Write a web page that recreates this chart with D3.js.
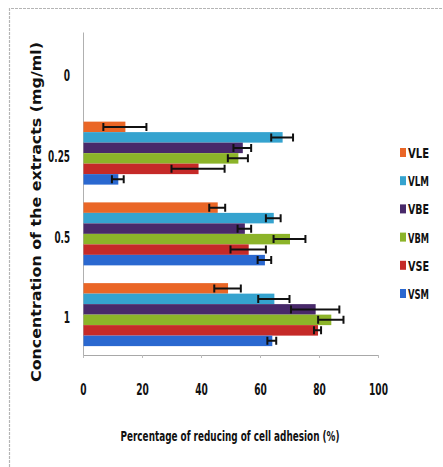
<!DOCTYPE html>
<html>
<head>
<meta charset="utf-8">
<script src="https://cdn.jsdelivr.net/npm/d3@7"></script>
<style>
  body { margin: 0; background: #fff; }
  svg { display: block; }
  .tick-label { font-family: "DejaVu Sans Condensed", "Liberation Sans Narrow", "Liberation Sans", sans-serif; font-weight: bold; font-size: 16px; fill: #111; }
  .axis-title { font-family: "DejaVu Sans Condensed", "Liberation Sans Narrow", sans-serif; font-weight: bold; font-size: 14px; fill: #111; }
  .y-title { font-family: "DejaVu Sans", Verdana, sans-serif; font-weight: bold; font-size: 14px; fill: #111; }
  .legend-label { font-family: "DejaVu Sans Condensed", "Liberation Sans Narrow", sans-serif; font-weight: bold; font-size: 14px; fill: #111; }
</style>
</head>
<body>
<svg width="443" height="467"></svg>
<script>
  // concentrations (mg/ml), top to bottom
  const categories = ['0', '0.25', '0.5', '1'];
  const seriesNames = ['VLE', 'VLM', 'VBE', 'VBM', 'VSE', 'VSM'];
  const seriesColors = ['#ea6626', '#35a3cf', '#48296a', '#8cb429', '#c52a28', '#2a68d0'];

  // % reduction of cell adhesion, one value per concentration
  const VLE = [0, 14.2, 45.5, 49];
  const VLM = [0, 67.5, 64.5, 64.7];
  const VBE = [0, 54, 54.7, 78.7];
  const VBM = [0, 52.5, 70, 84];
  const VSE = [0, 39, 56, 79.5];
  const VSM = [0, 11.8, 61.5, 64];

  // error bar half-widths
  const errVLE = [0, 7.3, 2.7, 4.5];
  const errVLM = [0, 3.7, 2.5, 5.3];
  const errVBE = [0, 3, 2.3, 8.2];
  const errVBM = [0, 3.4, 5.4, 4.3];
  const errVSE = [0, 9, 6, 1.2];
  const errVSM = [0, 2, 2.3, 1.5];

  const xTicks = [0, 20, 40, 60, 80, 100];

  const values = [VLE, VLM, VBE, VBM, VSE, VSM];
  const errors = [errVLE, errVLM, errVBE, errVBM, errVSE, errVSM];

  const rows = [];
  categories.forEach((c, ci) => {
    seriesNames.forEach((s, si) => {
      rows.push({ cat: c, series: s, value: values[si][ci], err: errors[si][ci], color: seriesColors[si] });
    });
  });

  // narrow glyph widths, like the condensed font of the scan
  const narrowWidth = s => s.split('').reduce((w, ch) => w + (ch === '.' ? 3 : 6.3), 0);

  const svg = d3.select('svg');

  // frame of the scanned figure
  svg.append('path')
    .attr('d', 'M9.5,467 V8.5 H443')
    .attr('fill', 'none')
    .attr('stroke', '#b5b5b5')
    .attr('stroke-width', 1.2)
    .attr('stroke-dasharray', '3,1');

  const xScale = d3.scaleLinear().domain([0, 100]).range([83, 378]);

  const yScale = d3.scaleBand()
    .domain(categories)
    .range([32, 355])
    .paddingInner(0.22)
    .paddingOuter(0.11);

  const ySub = d3.scaleBand()
    .domain(seriesNames)
    .range([0, yScale.bandwidth()]);

  // x axis
  const xAxisG = svg.append('g')
    .attr('transform', `translate(0,${355})`)
    .call(d3.axisBottom(xScale).tickValues(xTicks).tickSize(3).tickSizeOuter(0));
  xAxisG.select('.domain').attr('stroke', '#a8a8a8');
  xAxisG.selectAll('.tick line').attr('stroke', '#bbb');
  xAxisG.selectAll('.tick text')
    .attr('class', 'tick-label')
    .attr('y', 29)
    .attr('dy', '0.71em')
    .attr('textLength', d => narrowWidth(String(d)))
    .attr('lengthAdjust', 'spacingAndGlyphs');

  // y axis
  const yAxisG = svg.append('g')
    .attr('transform', `translate(${83},0)`)
    .call(d3.axisLeft(yScale).tickSize(0).tickPadding(13));
  yAxisG.select('.domain').attr('stroke', '#b0b0b0');
  yAxisG.selectAll('.tick text')
    .attr('class', 'tick-label')
    .attr('dy', '0.55em')
    .attr('textLength', d => narrowWidth(d))
    .attr('lengthAdjust', 'spacingAndGlyphs');

  // bars
  const barG = svg.append('g');
  const visible = rows.filter(d => d.value > 0);

  barG.selectAll('rect').data(visible)
    .enter().append('rect')
      .attr('x', xScale(0) + 0.5)
      .attr('y', d => yScale(d.cat) + ySub(d.series))
      .attr('width', d => xScale(d.value) - xScale(0))
      .attr('height', ySub.bandwidth())
      .attr('fill', d => d.color);

  // error bars
  const errG = svg.append('g')
    .attr('stroke', '#111')
    .attr('stroke-width', 2);
  const cy = d => yScale(d.cat) + ySub(d.series) + ySub.bandwidth() / 2;
  const capH = 4;

  errG.selectAll('.err').data(visible)
    .enter().append('path')
      .attr('class', 'err')
      .attr('fill', 'none')
      .attr('d', d => {
        const x0 = xScale(d.value - d.err);
        const x1 = xScale(d.value + d.err);
        const y = cy(d);
        return `M${x0},${y}H${x1}M${x0},${y - capH}V${y + capH}M${x1},${y - capH}V${y + capH}`;
      });

  // axis titles
  svg.append('text')
    .attr('class', 'axis-title')
    .attr('x', 230)
    .attr('y', 441)
    .attr('text-anchor', 'middle')
    .attr('textLength', 219)
    .attr('lengthAdjust', 'spacingAndGlyphs')
    .text('Percentage of reducing of cell adhesion (%)');

  svg.append('text')
    .attr('class', 'y-title')
    .attr('transform', `translate(${41},${212}) rotate(-90)`)
    .attr('text-anchor', 'middle')
    .attr('textLength', 340)
    .attr('lengthAdjust', 'spacingAndGlyphs')
    .text('Concentration of the extracts (mg/ml)');

  // legend
  const legendY = d3.scalePoint().domain(seriesNames).range([153, 294]);
  const legend = svg.append('g');
  const item = legend.selectAll('g').data(seriesNames)
    .enter().append('g')
      .attr('transform', d => `translate(400,${legendY(d)})`);
  item.append('rect')
    .attr('x', 0)
    .attr('y', -5)
    .attr('width', 6)
    .attr('height', 9)
    .attr('fill', (d, i) => seriesColors[i]);
  item.append('text')
    .attr('class', 'legend-label')
    .attr('x', 8)
    .attr('y', 5)
    .attr('textLength', d => d.length * 7)
    .attr('lengthAdjust', 'spacingAndGlyphs')
    .text(d => d);
</script>
</body>
</html>
